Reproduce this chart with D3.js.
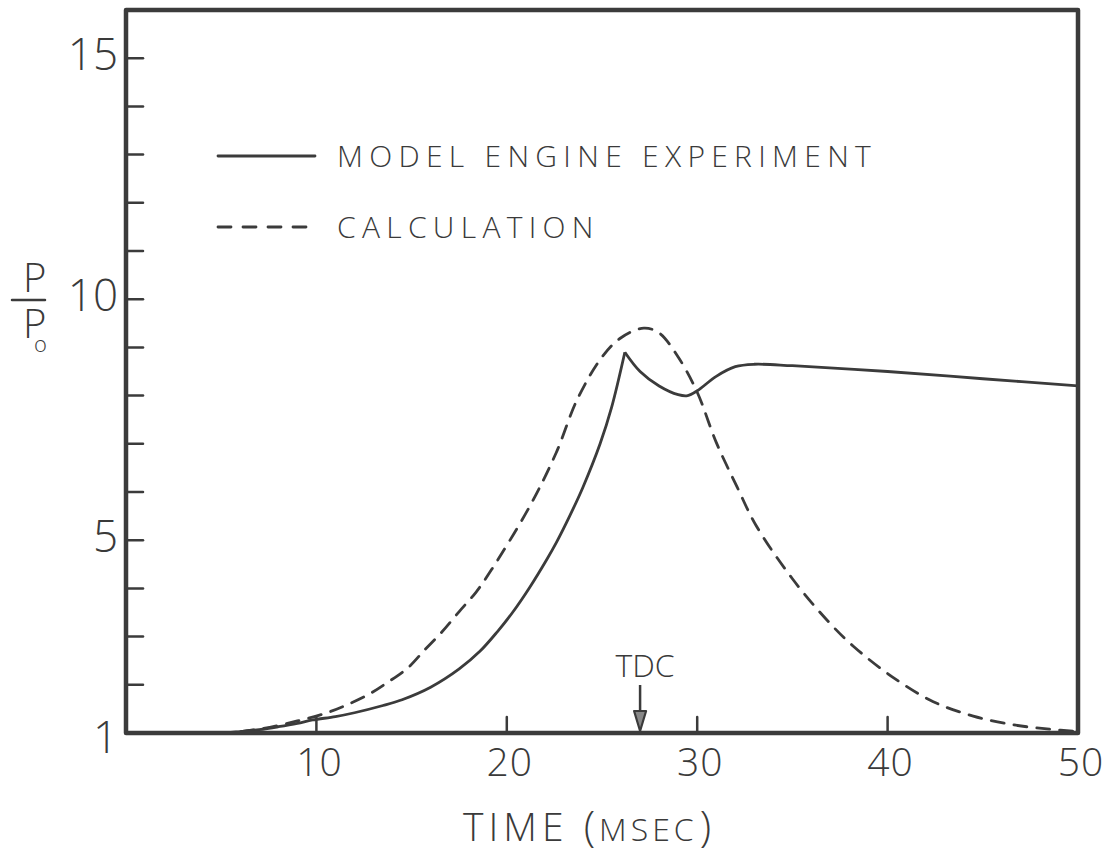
<!DOCTYPE html>
<html>
<head>
<meta charset="utf-8">
<script src="https://cdn.jsdelivr.net/npm/d3@7"></script>
<style>
  body { margin: 0; background: #fff; }
  text { font-family: "Open Sans", "DejaVu Sans", sans-serif; font-weight: 300; fill: #3a3a3a; }
</style>
</head>
<body>
<svg id="chart" width="1114" height="855"></svg>
<script>
// model engine experiment (solid)
const timeExp = [0, 5, 6, 7, 8, 9, 9.8, 11, 12, 13.5, 14.5, 16, 17.5, 18.6, 19.5, 20.3, 21.2, 22.1, 22.6, 23.3, 24, 24.9, 25.5, 26.2, 27, 28, 29, 29.5, 30, 31, 32, 33, 35, 40, 45, 50];
const pExp = [1, 1, 1.03, 1.07, 1.13, 1.2, 1.27, 1.34, 1.42, 1.57, 1.69, 1.95, 2.33, 2.7, 3.1, 3.5, 4.02, 4.6, 4.95, 5.5, 6.1, 7.0, 7.75, 8.9, 8.5, 8.2, 8.02, 8.0, 8.1, 8.4, 8.6, 8.65, 8.62, 8.5, 8.35, 8.2];
// calculation (dashed)
const timeCalc = [0, 5, 7, 9, 10.4, 11.4, 12.7, 13.7, 14.8, 15.7, 16.6, 17.5, 18.4, 19.2, 21.2, 22.6, 23.7, 25, 26, 27.2, 28, 29, 30, 31, 32.1, 33.1, 35, 36.8, 38.2, 40.3, 42.4, 44.5, 46.6, 48.5, 50];
const pCalc = [1, 1, 1.08, 1.25, 1.4, 1.55, 1.79, 2.04, 2.35, 2.73, 3.1, 3.52, 3.93, 4.39, 5.7, 6.82, 7.92, 8.8, 9.2, 9.4, 9.3, 8.8, 8.07, 7.03, 6.1, 5.3, 4.2, 3.35, 2.8, 2.15, 1.65, 1.35, 1.17, 1.08, 1.03];

const xTicks = [10, 20, 30, 40];
const xLabels = [10, 20, 30, 40, 50];
const yTicks = [2, 3, 4, 5, 6, 7, 8, 9, 10, 11, 12, 13, 14, 15];
const yLabels = [1, 5, 10, 15];
const tdcTime = 27;
const peakIndex = 23; // sharp cusp of the experiment curve

const svg = d3.select("svg#chart");
const ink = "#3b3b3b";

const x = d3.scaleLinear([0, 50], [126, 1078]);
const y = d3.scaleLinear([1, 16], [733, 10]);

const expData = timeExp.map((t, i) => ({ t: t, p: pExp[i] }));
const calcData = timeCalc.map((t, i) => ({ t: t, p: pCalc[i] }));

const line = d3.line()
	.x((d) => x(d.t))
	.y((d) => y(d.p))
	.curve(d3.curveCatmullRom.alpha(0.5));

// ticks
svg.append("g")
	.selectAll("line")
	.data(yTicks)
	.enter()
	.append("line")
	.attr("x1", x(0))
	.attr("x2", x(0) + 17)
	.attr("y1", (d) => y(d))
	.attr("y2", (d) => y(d))
	.attr("stroke", ink)
	.attr("stroke-width", 2.5)
	.attr("stroke-linecap", "round");

svg.append("g")
	.selectAll("line")
	.data(xTicks)
	.enter()
	.append("line")
	.attr("x1", (d) => x(d))
	.attr("x2", (d) => x(d))
	.attr("y1", y(1))
	.attr("y2", y(1) - 16)
	.attr("stroke", ink)
	.attr("stroke-width", 2.5)
	.attr("stroke-linecap", "round");

// curves
svg.append("path")
	.attr("d", line(expData.slice(0, peakIndex + 1)))
	.attr("fill", "none")
	.attr("stroke", ink)
	.attr("stroke-width", 2.8);
svg.append("path")
	.attr("d", line(expData.slice(peakIndex)))
	.attr("fill", "none")
	.attr("stroke", ink)
	.attr("stroke-width", 2.8);

svg.append("path")
	.attr("d", line(calcData))
	.attr("fill", "none")
	.attr("stroke", ink)
	.attr("stroke-width", 2.8)
	.attr("stroke-dasharray", "13,10")
	.attr("stroke-linecap", "round");

// frame
svg.append("rect")
	.attr("x", x(0))
	.attr("y", y(16))
	.attr("width", x(50) - x(0))
	.attr("height", y(1) - y(16))
	.attr("fill", "none")
	.attr("stroke", ink)
	.attr("stroke-width", 4.5)
	.attr("stroke-linejoin", "round");

// tick labels
svg.append("g")
	.selectAll("text")
	.data(yLabels)
	.enter()
	.append("text")
	.attr("x", 118)
	.attr("y", (d) => y(d) + (d === 1 ? 20 : 12))
	.attr("text-anchor", "end")
	.attr("font-size", 44)
	.text((d) => d);

svg.append("g")
	.selectAll("text")
	.data(xLabels)
	.enter()
	.append("text")
	.attr("x", (d) => x(d) + 3)
	.attr("y", y(1) + 43)
	.attr("text-anchor", "middle")
	.attr("font-size", 39)
	.attr("letter-spacing", 1)
	.text((d) => d);

// axis titles
const xt = svg.append("text")
	.attr("x", 463)
	.attr("y", 841)
	.attr("font-size", 39);
xt.append("tspan").attr("letter-spacing", 5).text("TIME ");
xt.append("tspan").attr("font-size", 42).text("(");
xt.append("tspan").attr("font-size", 32).attr("dx", 4).attr("letter-spacing", 4).text("MSEC");
xt.append("tspan").attr("font-size", 42).attr("dx", 2).text(")");

svg.append("text").attr("x", 23).attr("y", 292).attr("font-size", 40).text("P");
svg.append("line")
	.attr("x1", 12).attr("x2", 45)
	.attr("y1", 300).attr("y2", 300)
	.attr("stroke", ink).attr("stroke-width", 2.5).attr("stroke-linecap", "round");
svg.append("text").attr("x", 23).attr("y", 338).attr("font-size", 40).text("P");
svg.append("text").attr("x", 34).attr("y", 352).attr("font-size", 22).attr("font-weight", 400).text("o");

// legend
const legend = [
	{ label: "MODEL ENGINE EXPERIMENT", dash: null, ly: 156 },
	{ label: "CALCULATION", dash: "13,12", ly: 227 },
];
legend.forEach((d) => {
	svg.append("line")
		.attr("x1", 218).attr("x2", 315)
		.attr("y1", d.ly).attr("y2", d.ly)
		.attr("stroke", ink)
		.attr("stroke-width", 2.8)
		.attr("stroke-linecap", "round")
		.attr("stroke-dasharray", d.dash);
	svg.append("text")
		.attr("x", 337)
		.attr("y", d.ly + 11)
		.attr("font-size", 30)
		.attr("font-weight", 400)
		.attr("letter-spacing", 6.3)
		.text(d.label);
});

// TDC marker
svg.append("text")
	.attr("x", x(tdcTime) + 5)
	.attr("y", 677)
	.attr("text-anchor", "middle")
	.attr("font-size", 32)
	.attr("font-weight", 400)
	.text("TDC");
svg.append("line")
	.attr("x1", x(tdcTime)).attr("x2", x(tdcTime))
	.attr("y1", 685).attr("y2", y(1) - 8)
	.attr("stroke", ink).attr("stroke-width", 2.5);
svg.append("path")
	.attr("d", `M${x(tdcTime) - 6},${y(1) - 22} L${x(tdcTime) + 6},${y(1) - 22} L${x(tdcTime)},${y(1) - 2} Z`)
	.attr("fill", "#888")
	.attr("stroke", ink)
	.attr("stroke-width", 2.2)
	.attr("stroke-linejoin", "round");
</script>
</body>
</html>
